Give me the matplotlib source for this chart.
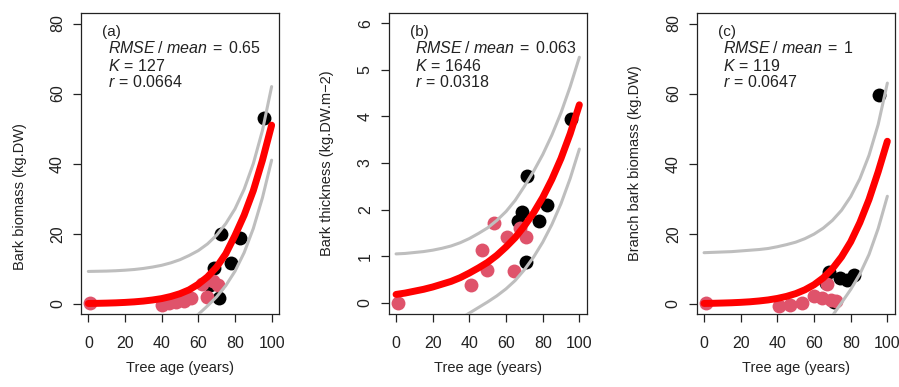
import matplotlib
matplotlib.use("Agg")
import matplotlib.pyplot as plt

plt.rcParams['font.family'] = ['Liberation Sans', 'DejaVu Sans']
plt.rcParams['mathtext.fontset'] = 'custom'
plt.rcParams['mathtext.rm'] = 'Liberation Sans'
plt.rcParams['mathtext.it'] = 'Liberation Sans:italic'

# ---------------------------------------------------------------- data
ages = [0, 5, 10, 15, 20, 25, 30, 35, 40, 45, 50,
        55, 60, 65, 70, 75, 80, 85, 90, 95, 100]

# (a) bark biomass
a_young_x = [1, 40, 44, 48, 52, 56, 62, 65, 68, 71]
a_young_y = [0.3, -0.3, 0.3, 0.6, 0.8, 1.6, 5.8, 2.0, 6.5, 5.5]
a_old_x = [66.5, 68.6, 71.4, 72.3, 77.7, 83, 96]
a_old_y = [5.4, 10.2, 1.6, 20.0, 11.6, 18.8, 53]
a_fit = [0.11, 0.15, 0.21, 0.29, 0.41, 0.57, 0.79, 1.1, 1.5, 2.1, 2.9,
         4.0, 5.6, 7.7, 10.5, 14.3, 19.5, 25.3, 32.3, 41.0, 51.0]
a_upper = [9.25, 9.3, 9.35, 9.45, 9.6, 9.8, 10.1, 10.5, 11.0, 11.7, 12.6,
           13.8, 15.2, 17.1, 19.6, 22.9, 27.1, 32.7, 40.0, 49.5, 62.0]
a_lower_ages = [55, 60, 65, 70, 75, 80, 85, 90, 95, 100]
a_lower = [-5.2, -3.0, -0.6, 2.0, 5.2, 9.3, 14.6, 21.5, 30.3, 41.0]

# (b) bark thickness
b_young_x = [1, 41, 47, 49.8, 53.7, 60.5, 64.3, 67.5, 71]
b_young_y = [0.0, 0.39, 1.14, 0.70, 1.72, 1.42, 0.69, 1.60, 1.42]
b_old_x = [66.5, 68.5, 70.8, 71.4, 77.8, 82.2, 95.5]
b_old_y = [1.76, 1.95, 0.87, 2.72, 1.76, 2.10, 3.94]
b_fit = [0.18, 0.21, 0.25, 0.29, 0.34, 0.40, 0.46, 0.54, 0.64, 0.75, 0.87,
         1.02, 1.20, 1.40, 1.65, 1.93, 2.26, 2.65, 3.10, 3.63, 4.25]
b_upper = [1.05, 1.06, 1.08, 1.10, 1.13, 1.17, 1.22, 1.29, 1.38, 1.49, 1.61,
           1.77, 1.96, 2.20, 2.50, 2.82, 3.18, 3.60, 4.08, 4.64, 5.27]
b_lower_ages = [35, 40, 45, 50, 55, 60, 65, 70, 75, 80, 85, 90, 95, 100]
b_lower = [-0.34, -0.22, -0.10, 0.02, 0.15, 0.30, 0.48, 0.71, 0.98, 1.30,
           1.68, 2.13, 2.67, 3.30]

# (c) branch bark biomass
c_young_x = [1, 41, 47, 53.5, 60, 64.5, 67.2, 69, 72]
c_young_y = [0.3, -0.5, -0.2, 0.3, 2.1, 1.6, 5.8, 1.1, 0.7]
c_old_x = [66.3, 68.1, 70.8, 74.4, 78, 81.6, 95.5]
c_old_y = [5.9, 9.2, 0.5, 7.3, 6.9, 8.3, 59.5]
c_fit = [0.12, 0.16, 0.23, 0.31, 0.43, 0.59, 0.82, 1.12, 1.55, 2.13, 2.92,
         4.0, 5.45, 7.4, 10.0, 13.4, 17.7, 23.2, 29.8, 37.7, 46.4]
c_upper = [14.6, 14.7, 14.8, 14.9, 15.1, 15.3, 15.5, 15.8, 16.3, 16.9, 17.6,
           18.6, 19.9, 21.6, 23.8, 26.7, 30.6, 35.7, 42.4, 51.2, 63.0]
c_lower_ages = [70, 75, 80, 85, 90, 95, 100]
c_lower = [-3.4, 0.3, 4.1, 8.5, 14.1, 21.5, 30.7]

tags = ["(a)", "(b)", "(c)"]
rmse = ["0.65", "0.063", "1"]
K_vals = ["127", "1646", "119"]
r_vals = ["0.0664", "0.0318", "0.0647"]
ylabels = ["Bark biomass (kg.DW)", "Bark thickness (kg.DW.m\u22122)", "Branch bark biomass (kg.DW)"]
yticks = [[0, 20, 40, 60, 80], [0, 1, 2, 3, 4, 5, 6], [0, 20, 40, 60, 80]]
ylims = [(-2.9, 83), (-0.24, 6.22), (-2.9, 83)]

panels = [
    (a_young_x, a_young_y, a_old_x, a_old_y, a_fit, a_upper, a_lower_ages, a_lower),
    (b_young_x, b_young_y, b_old_x, b_old_y, b_fit, b_upper, b_lower_ages, b_lower),
    (c_young_x, c_young_y, c_old_x, c_old_y, c_fit, c_upper, c_lower_ages, c_lower),
]

# ---------------------------------------------------------------- figure
fig = plt.figure(figsize=(8.99, 3.87), dpi=100)
lefts = [0.0901, 0.4324, 0.775]
ylab_y = [0.39, 0.5, 0.5]
ink = "#222222"
grey = "#BEBEBE"

for i, (yx, yy, ox, oy, fit, up, low_x, low) in enumerate(panels):
    ax = fig.add_axes([lefts[i], 0.1886, 0.2202, 0.7778])
    ax.scatter(ox, oy, s=100, c="black", lw=0, zorder=2)
    ax.scatter(yx, yy, s=100, c="#DF536B", lw=0, zorder=3)
    ax.plot(ages, up, color=grey, lw=2.2, zorder=4, solid_capstyle="round")
    ax.plot(low_x, low, color=grey, lw=2.2, zorder=4, solid_capstyle="round")
    ax.plot(ages, fit, color="red", lw=5, zorder=5, solid_capstyle="round")

    ax.set_xlim(-4, 104)
    ax.set_ylim(*ylims[i])
    ax.set_xticks([0, 20, 40, 60, 80, 100])
    ax.set_yticks(yticks[i])
    for s in ax.spines.values():
        s.set_linewidth(0.9)
        s.set_color(ink)
    ax.tick_params(direction="out", length=5.5, width=0.9, color=ink,
                   labelsize=11.5, labelcolor=ink, pad=10)
    ax.tick_params(axis="y", labelrotation=90, pad=6)
    for lbl in ax.get_yticklabels():
        lbl.set_va("center")

    ax.set_xlabel("Tree age (years)", fontsize=10.5, color=ink)
    ax.xaxis.set_label_coords(0.5, -0.155)
    ax.set_ylabel(ylabels[i], fontsize=10.5, color=ink)
    ax.yaxis.set_label_coords(-0.275, ylab_y[i])

    ax.text(0.105, 0.938, tags[i], transform=ax.transAxes, fontsize=11,
            va="center", color=ink)
    ax.text(0.135, 0.883, r"$RMSE\;/\;mean\;=\;\mathrm{" + rmse[i] + "}$",
            transform=ax.transAxes, fontsize=11.5, va="center", color=ink)
    ax.text(0.135, 0.824, r"$K\,=\,\mathrm{" + K_vals[i] + "}$",
            transform=ax.transAxes, fontsize=11.5, va="center", color=ink)
    ax.text(0.135, 0.772, r"$r\,=\,\mathrm{" + r_vals[i] + "}$",
            transform=ax.transAxes, fontsize=11.5, va="center", color=ink)

fig.savefig("out.png", dpi=100)
